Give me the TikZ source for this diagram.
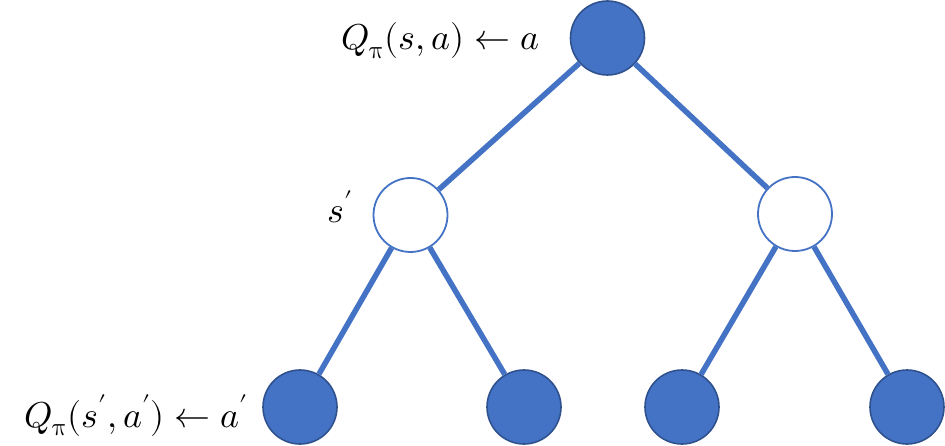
\documentclass[tikz,border=0pt]{standalone}
\usepackage{unicode-math}
\setmathfont{Latin Modern Math}
\definecolor{fillblue}{HTML}{4472C4}
\definecolor{darkblue}{HTML}{2F528F}
\begin{document}
\begin{tikzpicture}[x=1pt,y=-1pt,
  full/.style={circle,fill=fillblue,draw=darkblue,line width=1.6pt,minimum size=74pt,inner sep=0pt},
  open/.style={circle,fill=white,draw=fillblue,line width=1.8pt,minimum size=74pt,inner sep=0pt},
  edge/.style={draw=fillblue,line width=5.5pt},
  lbl/.style={font=\fontsize{36}{40}\selectfont,inner sep=0pt}]
\useasboundingbox (0,0) rectangle (945,446);
\node[full] (r) at (607.5,38) {};
\node[open] (m1) at (410.5,215) {};
\node[open] (m2) at (795,214) {};
\node[full] (b1) at (300,407) {};
\node[full] (b2) at (524,407) {};
\node[full] (b3) at (682,407) {};
\node[full] (b4) at (907,407) {};
\path[edge] (r) -- (m1);
\path[edge] (r) -- (m2);
\path[edge] (m1) -- (b1);
\path[edge] (m1) -- (b2);
\path[edge] (m2) -- (b3);
\path[edge] (m2) -- (b4);
\node[lbl,anchor=base east] (t1) at (540,50) {$Q_{\uppi}(s,a)\leftarrow a$};
\node[lbl,anchor=base east] (t2) at (353,223) {$s'$};
\node[lbl,anchor=base east] (t3) at (248,427) {$Q_{\uppi}(s',a')\leftarrow a'$};
\end{tikzpicture}
\end{document}
